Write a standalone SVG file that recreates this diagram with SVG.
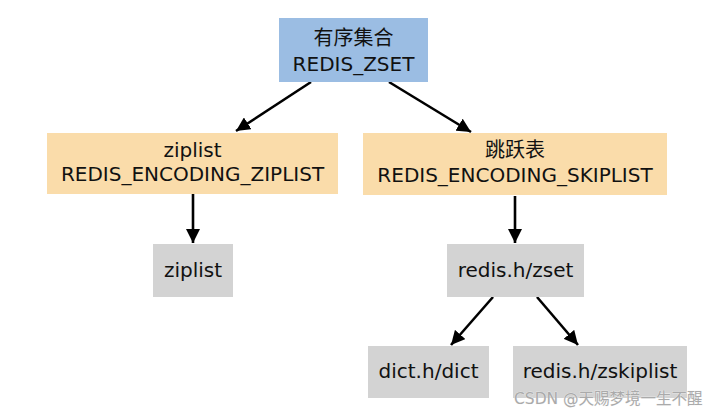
<svg xmlns="http://www.w3.org/2000/svg" width="718" height="415" viewBox="0 0 718 415">
<style>
.t{font-family:"DejaVu Sans","Noto Sans CJK SC",sans-serif;font-size:20px;fill:#111;text-anchor:middle}
.blue{fill:#9bbde3}
.tan{fill:#fadcaa}
.gray{fill:#d3d3d3}
.e{stroke:#000;stroke-width:2.6;fill:none;marker-end:url(#ah)}
.wm{font-family:"DejaVu Sans","Noto Sans CJK SC",sans-serif;font-size:15.5px;fill:#aaaaaa;stroke:#f4f4f4;stroke-width:0.6;paint-order:stroke}
</style>
<defs>
<marker id="ah" markerUnits="userSpaceOnUse" markerWidth="16" markerHeight="14" refX="14" refY="7" orient="auto">
<path d="M0,0 L14,7 L0,14 Z" fill="#000"/>
</marker>
</defs>
<rect width="718" height="415" fill="#fff"/>
<g id="edges">
<line class="e" x1="311" y1="82" x2="236" y2="131"/>
<line class="e" x1="389" y1="82" x2="471" y2="132"/>
<line class="e" x1="193" y1="194" x2="193" y2="243"/>
<line class="e" x1="515" y1="196" x2="515" y2="243"/>
<line class="e" x1="493" y1="297" x2="451" y2="345"/>
<line class="e" x1="537" y1="297" x2="578" y2="345"/>
</g>
<g id="zset">
<rect class="blue" x="279" y="18" width="149" height="64"/>
<text class="t" x="353.5" y="45">有序集合</text>
<text class="t" x="353.5" y="71">REDIS_ZSET</text>
</g>
<g id="enc_ziplist">
<rect class="tan" x="47" y="133" width="291" height="61"/>
<text class="t" x="192.5" y="157">ziplist</text>
<text class="t" x="192.5" y="181">REDIS_ENCODING_ZIPLIST</text>
</g>
<g id="enc_skiplist">
<rect class="tan" x="363" y="133" width="304" height="62"/>
<text class="t" x="515" y="157">跳跃表</text>
<text class="t" x="515" y="182">REDIS_ENCODING_SKIPLIST</text>
</g>
<g id="ziplist">
<rect class="gray" x="153" y="244" width="80" height="53"/>
<text class="t" x="193" y="277">ziplist</text>
</g>
<g id="zset_struct">
<rect class="gray" x="447" y="244" width="137" height="53"/>
<text class="t" x="515.5" y="277">redis.h/zset</text>
</g>
<g id="dict">
<rect class="gray" x="368" y="346" width="121" height="52"/>
<text class="t" x="428.5" y="378">dict.h/dict</text>
</g>
<g id="zskiplist">
<rect class="gray" x="513" y="346" width="174" height="52"/>
<text class="t" x="600" y="378">redis.h/zskiplist</text>
</g>
<text class="wm" x="514" y="404">CSDN @天赐梦境一生不醒</text>
</svg>
